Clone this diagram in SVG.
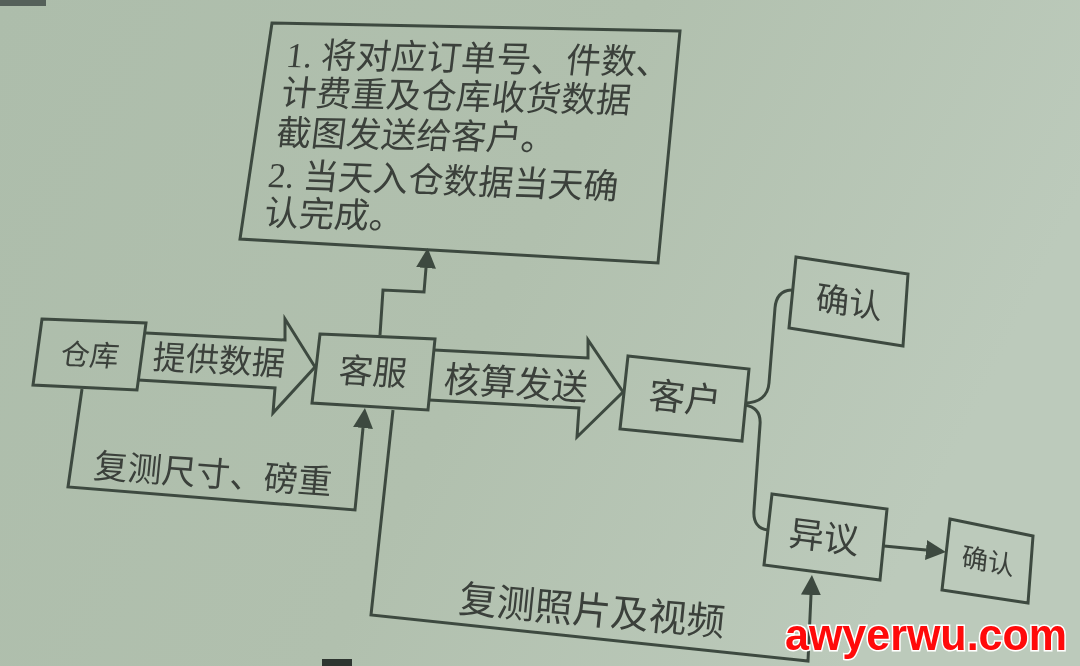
<svg xmlns="http://www.w3.org/2000/svg" width="1080" height="666" viewBox="0 0 1080 666">
  <defs>
    <linearGradient id="bg" x1="0" y1="0" x2="1" y2="0.3">
      <stop offset="0" stop-color="#adbdab"/>
      <stop offset="0.55" stop-color="#b1c0ae"/>
      <stop offset="1" stop-color="#bccabb"/>
    </linearGradient>
    <marker id="ah" viewBox="0 0 20 20" refX="0" refY="10" markerWidth="20" markerHeight="20" markerUnits="userSpaceOnUse" orient="auto">
      <path d="M0,0 L20,10 L0,20 Z" fill="#3d4a3f"/>
    </marker>
    <filter id="soft" x="-5%" y="-5%" width="110%" height="110%">
      <feGaussianBlur stdDeviation="0.5"/>
    </filter>
  </defs>
  <style>
    .bx{fill:none;stroke:#3d4a3f;stroke-width:3;stroke-linejoin:miter}
    .ln{fill:none;stroke:#3d4a3f;stroke-width:3;stroke-linejoin:miter}
    .t{font-family:"Noto Sans CJK SC",sans-serif;fill:#3a403a;text-anchor:middle}
    .tl{font-family:"Liberation Serif","Noto Sans CJK SC",serif;fill:#3a403a;font-size:35px}
    .wm{font-family:"Liberation Sans",Arial,sans-serif;font-weight:bold;font-size:44px;fill:#ff0a0a;stroke:#ffffff;stroke-width:3;paint-order:stroke}
  </style>
  <rect width="1080" height="666" fill="url(#bg)"/>
  <rect x="0" y="0" width="46" height="6" fill="#55605a"/>
  <rect x="322" y="659" width="30" height="7" fill="#2e3530"/>

  <g filter="url(#soft)">
    <g id="connectors">
      <path class="ln" d="M380,335 L383,290 L424,292 L426,268" marker-end="url(#ah)"/>
      <path class="ln" d="M82,389 L68,487 L355,510 L363,428" marker-end="url(#ah)"/>
      <path class="ln" d="M393,410 L371,615 L808,661 L811,595" marker-end="url(#ah)"/>
      <path class="ln" d="M884,546 L926,550" marker-end="url(#ah)"/>
      <path class="ln" d="M745,403 C759,403 768,396 769,383 L775,308 C776,296 782,290 793,290"/>
      <path class="ln" d="M745,405 C757,407 761,414 760,425 L754,510 C753,522 758,529 768,530"/>
      <polyline id="arrow-tigong" class="ln" points="146,333 285,340 285,319 315,367 273,413 275,388 138,380"/>
      <polyline id="arrow-hesuan" class="ln" points="434,350 588,358 588,340 623,392 577,437 579,408 429,400"/>
      <text class="t" font-size="33" transform="matrix(1 0.05 -0.1 1 219 360)" y="12">提供数据</text>
      <text class="t" font-size="36" transform="matrix(1 0.06 -0.1 1 516 383)" y="13">核算发送</text>
      <text class="t" font-size="34" transform="matrix(1 0.07 -0.1 1 213 474)" y="12">复测尺寸、磅重</text>
      <text class="t" font-size="38" transform="matrix(1 0.09 -0.1 1 592 610)" y="14">复测照片及视频</text>
    </g>

    <g id="node-note">
      <polygon class="bx" points="272,23 680,31 658,263 240,239"/>
      <text class="tl" transform="matrix(1 0.02 -0.12 1 285 67)">1. 将对应订单号、件数、</text>
      <text class="tl" transform="matrix(1 0.022 -0.12 1 280 105)">计费重及仓库收货数据</text>
      <text class="tl" transform="matrix(1 0.02 -0.12 1 275 145)">截图发送给客户。</text>
      <text class="tl" transform="matrix(1 0.034 -0.12 1 267 187)">2. 当天入仓数据当天确</text>
      <text class="tl" transform="matrix(1 0.03 -0.12 1 263 225)">认完成。</text>
    </g>

    <g id="node-cangku">
      <polygon class="bx" points="42,319 146,323 137,390 33,385"/>
      <text class="t" font-size="29" transform="matrix(1 0.043 -0.135 1 90 355)" y="10.5">仓库</text>
    </g>

    <g id="node-kefu">
      <polygon class="bx" points="320,334 435,339 428,410 312,403"/>
      <text class="t" font-size="34" transform="matrix(1 0.05 -0.11 1 373 372)" y="12">客服</text>
    </g>

    <g id="node-kehu">
      <polygon class="bx" points="628,356 749,369 742,441 620,429"/>
      <text class="t" font-size="36" transform="matrix(1 0.1 -0.11 1 685 398)" y="13">客户</text>
    </g>

    <g id="node-queren-1">
      <polygon class="bx" points="796,257 908,274 903,346 789,328"/>
      <text class="t" font-size="33" transform="matrix(1 0.155 -0.09 1 849 302)" y="12">确认</text>
    </g>

    <g id="node-yiyi">
      <polygon class="bx" points="772,494 887,509 880,580 764,565"/>
      <text class="t" font-size="35" transform="matrix(1 0.13 -0.11 1 824 537)" y="12.5">异议</text>
    </g>

    <g id="node-queren-2">
      <polygon class="bx" points="950,519 1033,536 1028,603 942,590"/>
      <text class="t" font-size="26" transform="matrix(1 0.19 -0.1 1 988 561)" y="9.5">确认</text>
    </g>
  </g>

  <text class="wm" x="785" y="650" textLength="282" lengthAdjust="spacingAndGlyphs">awyerwu.com</text>
</svg>
